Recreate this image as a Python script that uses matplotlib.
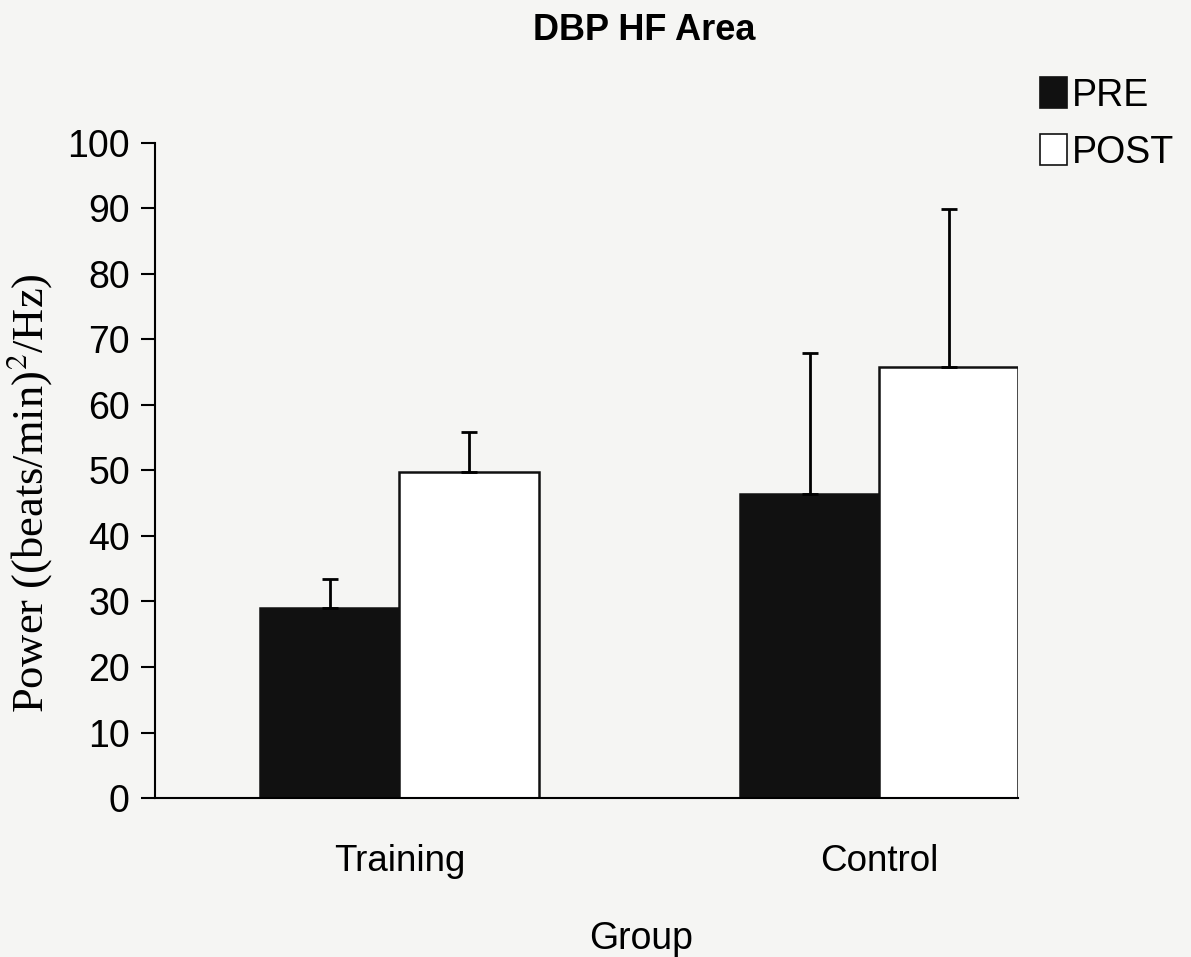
import matplotlib
matplotlib.use("Agg")
import matplotlib.pyplot as plt
from matplotlib.patches import Patch
import numpy as np

groups = ["Training", "Control"]
series = ["PRE", "POST"]
pre_mean = [29.0, 46.4]
pre_err = [4.4, 21.5]
post_mean = [49.8, 65.8]
post_err = [6.1, 24.0]
yticks = [0, 10, 20, 30, 40, 50, 60, 70, 80, 90, 100]

bg = "#f5f5f3"
sans = ["Liberation Sans", "DejaVu Sans"]
serif = ["Liberation Serif", "DejaVu Serif"]
plt.rcParams["mathtext.fontset"] = "stix"

fig = plt.figure(figsize=(11.91, 9.57), dpi=100, facecolor=bg)
ax = fig.add_axes([0.130, 0.166, 0.725, 0.685])
ax.set_facecolor(bg)

x = np.arange(len(groups))
w = 0.29
err_kw = dict(ecolor="black", elinewidth=2.0, capsize=6, capthick=2.0)
ax.bar(x - w / 2, pre_mean, w, color="#111111", edgecolor="#111111", linewidth=1.8,
       yerr=[np.zeros(2), pre_err], error_kw=err_kw, zorder=2)
ax.bar(x + w / 2, post_mean, w, color="white", edgecolor="#111111", linewidth=1.8,
       yerr=[np.zeros(2), post_err], error_kw=err_kw, zorder=2)

ax.set_xlim(-0.51, 1.29)
ax.set_ylim(0, 100)
ax.set_yticks(yticks)
ax.set_xticks(x)
ax.set_xticklabels(groups, fontsize=26.5, family=sans)
ax.tick_params(axis="x", length=0, pad=33)
ax.tick_params(axis="y", length=10, width=1.5, pad=8, labelsize=27)
for lbl in ax.get_yticklabels():
    lbl.set_family(sans)

for s in ["top", "right"]:
    ax.spines[s].set_visible(False)
for s in ["left", "bottom"]:
    ax.spines[s].set_linewidth(1.5)

ax.set_xlabel("Group", fontsize=27, family=sans)
ax.xaxis.set_label_coords(0.563, -0.187)
ax.set_ylabel(r"Power ((beats/min)$^{2}$/Hz)", fontsize=32, family=serif)
ax.yaxis.set_label_coords(-0.117, 0.466)

fig.text(0.541, 0.968, "DBP HF Area", ha="center", va="center",
         fontsize=26, fontweight="bold", family=sans)

handles = [Patch(facecolor="#111111", edgecolor="#111111", linewidth=1.2),
           Patch(facecolor="white", edgecolor="#111111", linewidth=1.2)]
fig.legend(handles, series, loc="upper left", bbox_to_anchor=(0.861, 0.935),
           frameon=False, prop={"family": sans, "size": 27},
           handlelength=0.7, handleheight=0.9, handletextpad=0.15,
           labelspacing=0.55, borderaxespad=0)

fig.savefig("out.png", dpi=100, facecolor=bg)
